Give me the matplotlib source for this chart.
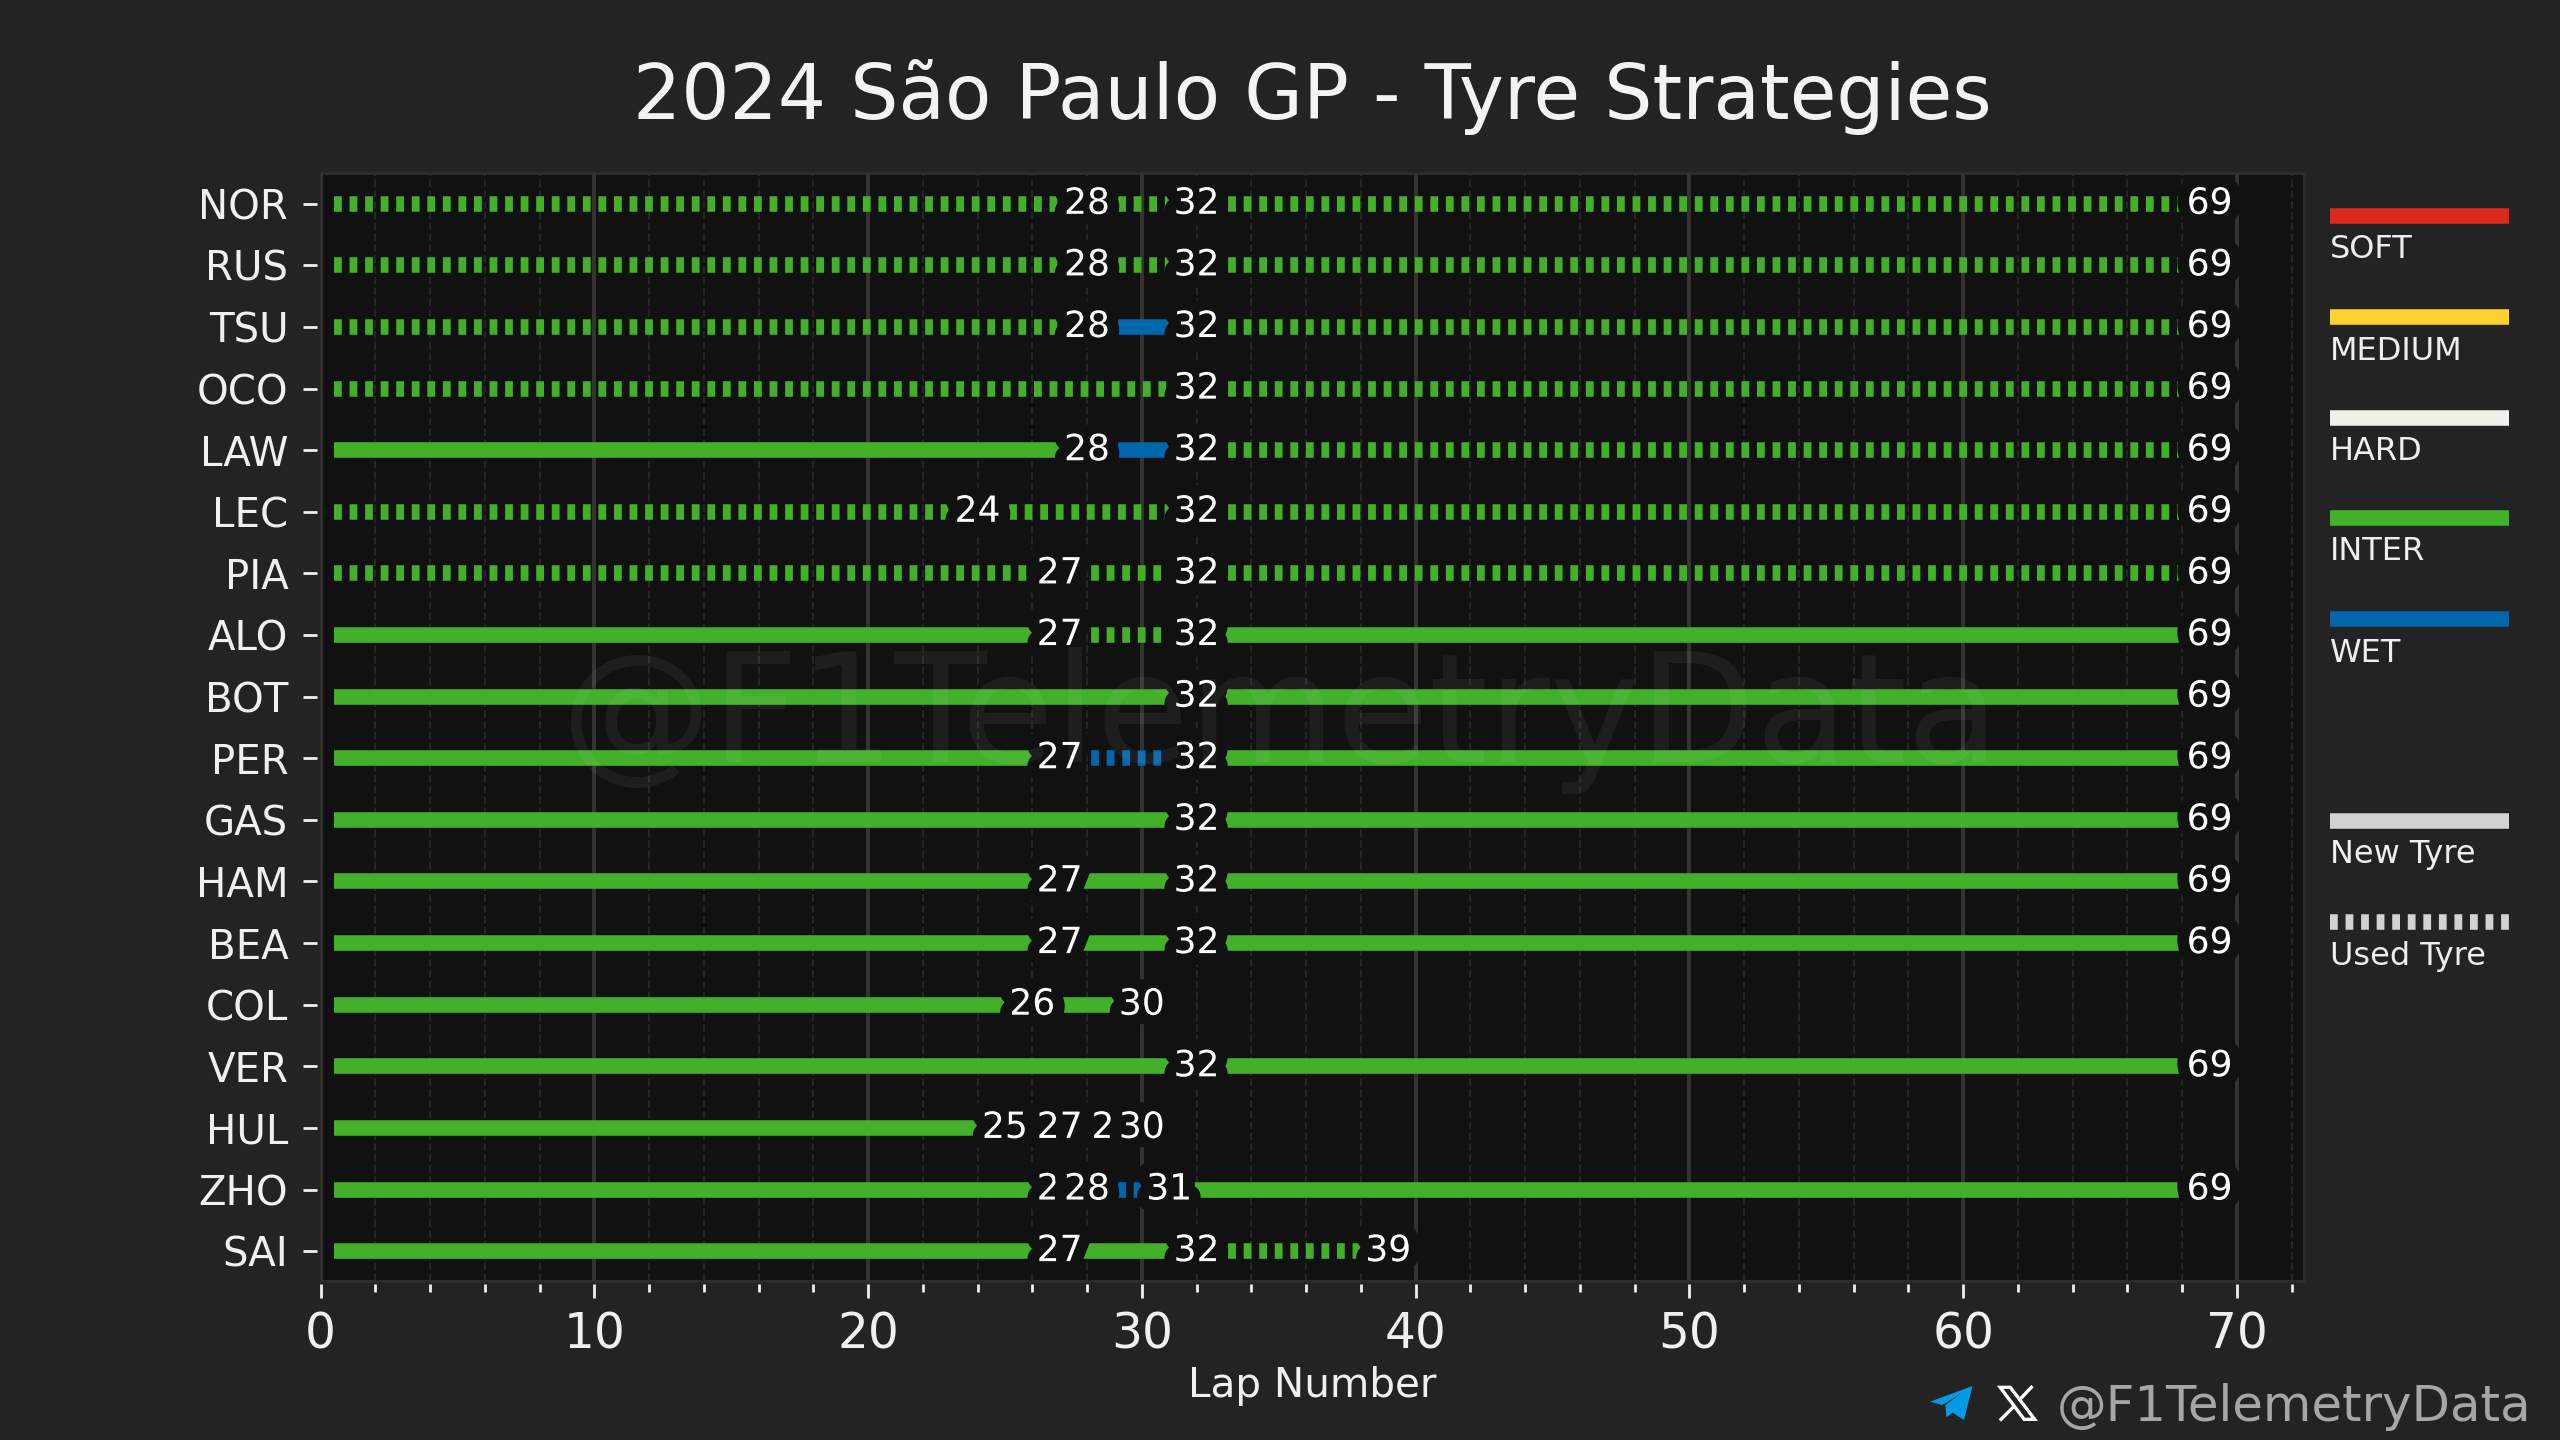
import matplotlib
matplotlib.use("Agg")
import matplotlib.pyplot as plt
import matplotlib.patheffects as pe
from matplotlib.patches import Polygon
from matplotlib.ticker import MultipleLocator

# stints per driver, top to bottom: last lap, compound, used tyre or not
drivers = ["NOR", "RUS", "TSU", "OCO", "LAW", "LEC", "PIA", "ALO", "BOT",
           "PER", "GAS", "HAM", "BEA", "COL", "VER", "HUL", "ZHO", "SAI"]

stint_ends = [
    [28, 32, 69], [28, 32, 69], [28, 32, 69], [32, 69], [28, 32, 69], [24, 32, 69],
    [27, 32, 69], [27, 32, 69], [32, 69], [27, 32, 69], [32, 69], [27, 32, 69],
    [27, 32, 69], [26, 30], [32, 69], [25, 27, 29, 30], [27, 28, 31, 69], [27, 32, 39],
]
stint_compounds = [
    ["INTER", "INTER", "INTER"], ["INTER", "INTER", "INTER"], ["INTER", "WET", "INTER"],
    ["INTER", "INTER"], ["INTER", "WET", "INTER"], ["INTER", "INTER", "INTER"],
    ["INTER", "INTER", "INTER"], ["INTER", "INTER", "INTER"], ["INTER", "INTER"],
    ["INTER", "WET", "INTER"], ["INTER", "INTER"], ["INTER", "INTER", "INTER"],
    ["INTER", "INTER", "INTER"], ["INTER", "INTER"], ["INTER", "INTER"],
    ["INTER", "INTER", "INTER", "INTER"], ["INTER", "INTER", "WET", "INTER"],
    ["INTER", "INTER", "INTER"],
]
stint_used = [
    [1, 1, 1], [1, 1, 1], [1, 0, 1], [1, 1], [0, 0, 1], [1, 1, 1],
    [1, 1, 1], [0, 1, 0], [0, 0], [0, 1, 0], [0, 0], [0, 0, 0],
    [0, 0, 0], [0, 0], [0, 0], [0, 0, 0, 0], [0, 0, 1, 0], [0, 0, 1],
]

compound_colors = {"SOFT": "#DA291C", "MEDIUM": "#FFD12E", "HARD": "#F0F0EC",
                   "INTER": "#43B02A", "WET": "#0067AD"}
legend_rows = [("SOFT", 216), ("MEDIUM", 317), ("HARD", 418), ("INTER", 518), ("WET", 619)]

BG = "#232323"
PANEL = "#111111"
W, H = 2560, 1440

plt.rcParams["font.family"] = ["DejaVu Sans"]
fig = plt.figure(figsize=(12.8, 7.2), dpi=200, facecolor=BG)

left, right, top, bottom = 320.5, 2304, 172.7, 1280.7
ax = fig.add_axes([left / W, 1 - bottom / H, (right - left) / W, (bottom - top) / H])
ax.set_facecolor(PANEL)

# ticks sit a little away from the frame, so the frame is the axes patch
for name, spine in ax.spines.items():
    if name in ("left", "bottom"):
        spine.set_position(("outward", 1.1))
    spine.set_visible(False)
ax.patch.set_edgecolor("#2E2B2B")
ax.patch.set_linewidth(1.1)

ax.set_xlim(0, 72.45)
ax.set_ylim(17.48, -0.505)
ax.set_yticks(range(len(drivers)))
ax.set_yticklabels(drivers)
ax.xaxis.set_major_locator(MultipleLocator(10))
ax.xaxis.set_minor_locator(MultipleLocator(2))
ax.set_axisbelow(True)
ax.grid(axis="x", which="major", color="#373331", linewidth=1.4)
ax.grid(axis="x", which="minor", color="#2C2929", linewidth=0.6, linestyle=(0, (4.5, 2)))
ax.tick_params(axis="x", which="major", length=5, width=1, color="#EEEEEE",
               labelcolor="#F0F0F0", labelsize=17.5, pad=4.5)
ax.tick_params(axis="x", which="minor", length=2.8, width=1, color="#EEEEEE")
ax.tick_params(axis="y", which="major", length=5, width=1, color="#EEEEEE",
               labelcolor="#F0F0F0", labelsize=14.5, pad=5.5)

for row, driver in enumerate(drivers):
    start = 0.5
    for end, compound, used in zip(stint_ends[row], stint_compounds[row], stint_used[row]):
        ax.plot([start, end], [row, row], color=compound_colors[compound], linewidth=5.6,
                linestyle=(0, (0.5, 0.5)) if used else "-",
                solid_capstyle="butt", dash_capstyle="butt", zorder=3)
        ax.annotate(str(end), (end, row), xytext=(0, 0), textcoords="offset points",
                    ha="center", va="center", color="white", fontsize=13, zorder=4,
                    path_effects=[pe.withStroke(linewidth=8.5, foreground=PANEL)])
        start = end

ax.set_xlabel("Lap Number", color="#F0F0F0", fontsize=14.6, labelpad=3)
fig.text((left + right) / 2 / W, 1 - 119 / H, "2024 São Paulo GP - Tyre Strategies",
         color="#F2F3F5", fontsize=27.3, ha="center", va="baseline")
fig.text(1280 / W, 1 - 762 / H, "@F1TelemetryData", color="white", alpha=0.06,
         fontsize=54.3, ha="center", va="baseline", zorder=10)

# legend and footer share one overlay in pixel coordinates
over = fig.add_axes([0, 0, 1, 1], facecolor="none")
over.set_xlim(0, W)
over.set_ylim(H, 0)
over.axis("off")

for name, y in legend_rows:
    over.plot([2330, 2509], [y, y], color=compound_colors[name], linewidth=5.6,
              solid_capstyle="butt")
    over.text(2330, y + 34, name, color="#EEEEEE", fontsize=11.5, va="center")

over.plot([2330, 2509], [821, 821], color="#D2D2D2", linewidth=5.6, solid_capstyle="butt")
over.text(2330, 855, "New Tyre", color="#EEEEEE", fontsize=11.5, va="center")
over.plot([2330, 2509], [922, 922], color="#D2D2D2", linewidth=5.6,
          linestyle=(0, (0.5, 0.5)), dash_capstyle="butt")
over.text(2330, 956, "Used Tyre", color="#EEEEEE", fontsize=11.5, va="center")


def crop_pt(zx, zy):
    return 1900 + zx / 2.376, 1360 + zy / 3


plane = [(72, 125), (172, 78), (152, 180), (125, 158), (110, 172), (108, 135), (140, 105), (100, 135)]
over.add_patch(Polygon([crop_pt(*p) for p in plane], closed=True, facecolor="#039BE5", edgecolor="none"))
x_band = [(238, 82), (262, 82), (320, 178), (295, 178)]
over.add_patch(Polygon([crop_pt(*p) for p in x_band], closed=True, facecolor="none",
                       edgecolor="white", linewidth=1.2))
over.plot(*zip(crop_pt(312, 82), crop_pt(285, 118)), color="white", linewidth=1.2)
over.plot(*zip(crop_pt(270, 140), crop_pt(240, 178)), color="white", linewidth=1.2)
over.text(2057, 1421, "@F1TelemetryData", color="#A6A6A6", fontsize=17.9, va="baseline")

fig.savefig("out.png", dpi=200, facecolor=BG)
